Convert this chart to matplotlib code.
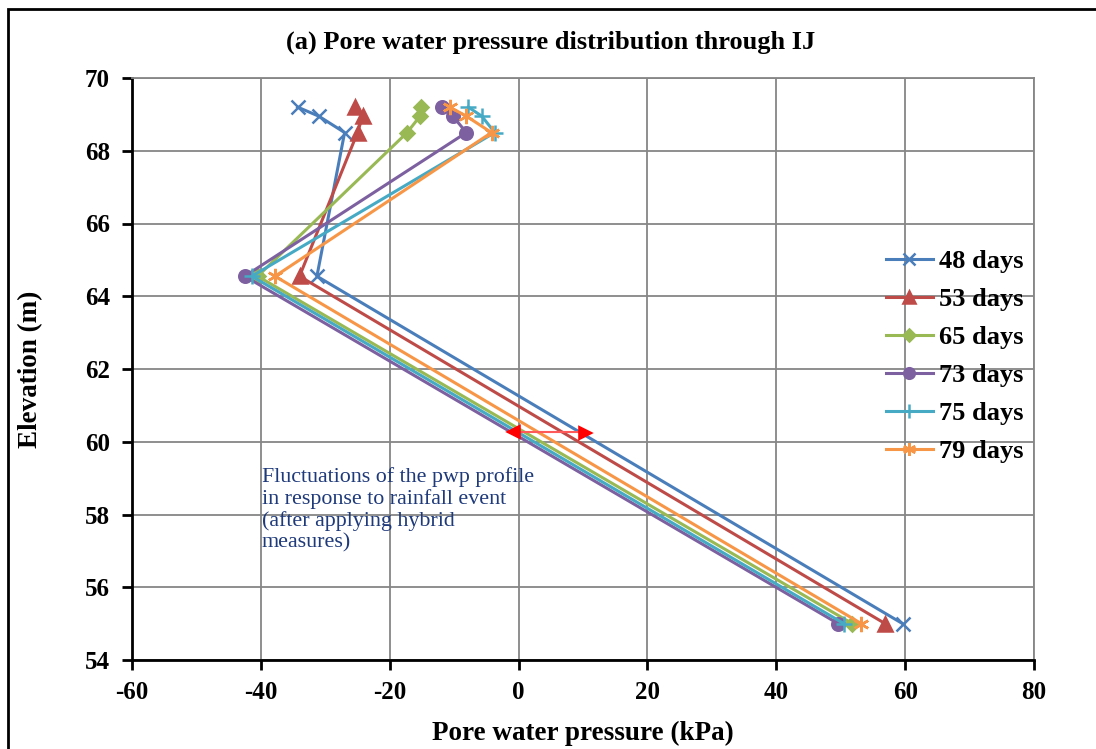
import matplotlib
matplotlib.use("Agg")
import matplotlib.pyplot as plt
from matplotlib.patches import Rectangle

plt.rcParams['font.family'] = ['Liberation Serif', 'DejaVu Serif']
plt.rcParams['axes.unicode_minus'] = False

elev = [69.2, 68.95, 68.5, 64.55, 55.0]
series = {
    "48 days": [-34.3, -31.0, -27.0, -31.3, 59.6],
    "53 days": [-25.4, -24.2, -25.0, -34.0, 56.9],
    "65 days": [-15.2, -15.3, -17.3, -40.5, 51.8],
    "73 days": [-11.9, -10.2, -8.1, -42.5, 49.6],
    "75 days": [-7.8, -5.7, -3.7, -41.4, 50.5],
    "79 days": [-10.7, -8.1, -4.2, -37.8, 53.2],
}
colors = ["#4A7EBB", "#BE4B48", "#98B954", "#7D60A0", "#46AAC5", "#F79646"]
markers = ["x", "^", "D", "o", "+", (6, 2, 0)]
msizes = [10, 10, 7, 9, 12, 11]

x_ticks = [-60, -40, -20, 0, 20, 40, 60, 80]
y_ticks = [54, 56, 58, 60, 62, 64, 66, 68, 70]

fig = plt.figure(figsize=(10.96, 7.49), dpi=100)
ax = fig.add_axes([132/1096, 1-660/749, (1034-132)/1096, (660-78)/749])

for (name, xs), c, m, ms in zip(series.items(), colors, markers, msizes):
    ax.plot(xs, elev, color=c, lw=2.2, marker=m, markersize=ms,
            markeredgewidth=1.8, label=name, zorder=3)

ax.set_xlim(-60, 80)
ax.set_ylim(54, 70)
ax.set_xticks(x_ticks)
ax.set_yticks(y_ticks)
ax.grid(True, color="#868686", lw=1.3, zorder=0)
ax.set_axisbelow(True)
for s in ["top", "right"]:
    ax.spines[s].set_color("#868686")
    ax.spines[s].set_linewidth(1.3)
for s in ["left", "bottom"]:
    ax.spines[s].set_color("black")
    ax.spines[s].set_linewidth(2)
ax.tick_params(direction="out", length=7, width=2, labelsize=18)
ax.tick_params(axis="x", pad=8)
ax.tick_params(axis="y", pad=9)
for lab in ax.get_xticklabels() + ax.get_yticklabels():
    lab.set_fontweight("bold")

ax.set_xlabel("Pore water pressure (kPa)", fontsize=19.5, fontweight="bold", labelpad=12)
ax.set_ylabel("Elevation (m)", fontsize=19.5, fontweight="bold", labelpad=30)
fig.text(551/1096, 1-42/749, "(a) Pore water pressure distribution through IJ",
         ha="center", va="center", fontsize=19, fontweight="bold")

leg = ax.legend(loc="upper left", bbox_to_anchor=(0.821, 0.728), frameon=False,
                prop=dict(size=19, weight="bold"), handlelength=1.78,
                handletextpad=0.23, labelspacing=0.55, borderpad=0, markerscale=0.85)

# arrow
ax.plot([-1.0, 10.8], [60.27, 60.27], color="#FF5A5A", lw=1.5, zorder=4)
ax.annotate("", xy=(-2.5, 60.27), xytext=(0.5, 60.27),
            arrowprops=dict(arrowstyle="-|>", color="red", lw=0, mutation_scale=28), zorder=5)
ax.annotate("", xy=(12.1, 60.24), xytext=(9.0, 60.24),
            arrowprops=dict(arrowstyle="-|>", color="red", lw=0, mutation_scale=28), zorder=5)

ax.text(-39.9, 59.3, "Fluctuations of the pwp profile\nin response to rainfall event\n(after applying hybrid\nmeasures)",
        ha="left", va="top", fontsize=15.8, color="#1F3A7A", linespacing=1.15, zorder=6)

fig.patches.append(Rectangle((8/1096, -0.1), 1.2, 1-9/749+0.1, transform=fig.transFigure,
                             fill=False, edgecolor="black", lw=2))

fig.savefig("out.png", dpi=100)
